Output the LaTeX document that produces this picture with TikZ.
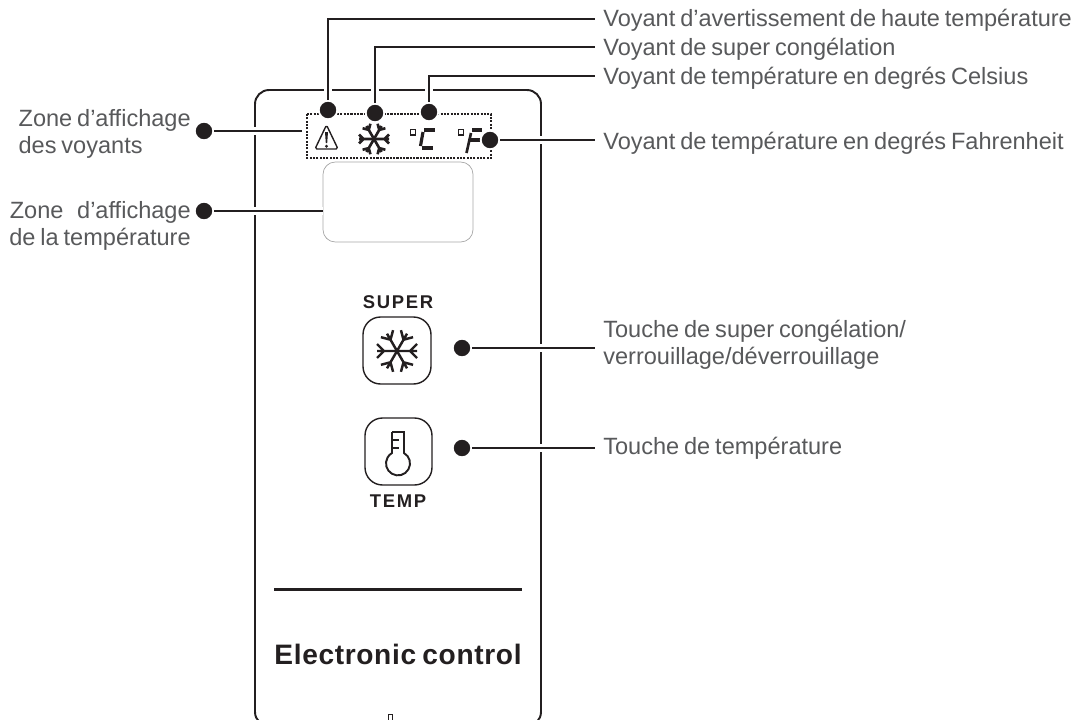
\documentclass[tikz,border=0pt]{standalone}
\usepackage{fontspec}
\setmainfont[WordSpace=0.75]{Liberation Sans}
\definecolor{labelgray}{HTML}{58595B}
\definecolor{inkblack}{HTML}{231F20}
\tikzset{
  label text/.style={text=labelgray, font=\fontsize{13.4pt}{15.4pt}\selectfont, inner sep=0pt},
  panel text/.style={text=inkblack, font=\addfontfeatures{LetterSpace=9}\bfseries\fontsize{10.5pt}{12pt}\selectfont, inner sep=0pt},
  callout/.style={draw=inkblack, line width=1.2pt, preaction={draw=white, line width=4pt}},
  dot/.style={circle, fill=inkblack, draw=white, line width=1pt, inner sep=0pt, minimum size=10.5pt}
}
\newcommand{\snowflake}[4]{% centre, radius, branch, width
  \foreach \ang in {0,60,...,300} {
    \draw[inkblack, line width=#4, rotate around={\ang:(#1)}] (#1) -- ++(#2,0) ++(-#3,0) -- ++(#3,#3) ++(-#3,-#3) -- ++(#3,-#3);
  }
}
\begin{document}
\begin{tikzpicture}[x=0.02cm, y=-0.02cm]
    \useasboundingbox (0,0) rectangle (1075,720);

    % Panel outline
    \draw[inkblack, line width=1.1pt, rounded corners=8pt] (255,726) -- (255,90) -- (541,90) -- (541,726) -- cycle;

    % Indicator area
    \draw[inkblack, dash pattern=on 1.2pt off 0.7pt, line width=0.6pt] (307,114) -- (491,114) -- (491,158) -- (307,158) -- cycle;
    \draw[gray!70, line width=0.4pt, rounded corners=7pt] (323,162) rectangle (473,242);

    % Warning icon
    \draw[inkblack, line width=0.8pt, line join=round, rounded corners=1pt] (326.5,125) -- (338,149) -- (315,149) -- cycle;
    \fill[inkblack] (325,132) -- (328,132) -- (327.2,143) -- (325.8,143) -- cycle;
    \fill[inkblack] (326.5,146.2) circle (1.6);

    % Display snowflake
    \snowflake{374,139}{15}{4.5}{1.5pt}

    % Celsius and Fahrenheit
    \draw[inkblack, line width=0.6pt] (410.5,129.5) rectangle (415.5,135);
    \draw[inkblack, line width=1.8pt] (423,132) -- (420.5,146);
    \draw[inkblack, line width=1.8pt] (424,130) -- (435,130);
    \draw[inkblack, line width=1.8pt] (422,148) -- (433,148);
    \draw[inkblack, line width=0.6pt] (458.5,129.5) rectangle (463.5,135);
    \draw[inkblack, line width=1.5pt] (471,133) -- (466.5,153);
    \draw[inkblack, line width=1.8pt] (472,130) -- (482,130);
    \draw[inkblack, line width=1.8pt] (469.5,140) -- (480,140);

    % Buttons
    \node[panel text] (super) at (398,302) {SUPER};
    \draw[inkblack, line width=0.8pt, rounded corners=10pt] (363,317) rectangle (431,384);
    \snowflake{397,351}{20}{7}{1.4pt}
    \draw[inkblack, line width=0.8pt, rounded corners=10pt] (365,418) rectangle (432,485);
    \draw[inkblack, line width=1.1pt] (392,432) -- (404,432) -- (404,453)
        arc[start angle=-60, end angle=240, radius=12] -- (392,432);
    \draw[inkblack, line width=1.5pt] (392,440) -- (399,440) (392,448) -- (399,448);
    \node[panel text] (temp) at (398,501) {TEMP};

    % Bottom of the panel
    \draw[inkblack, line width=1.7pt] (274,589) -- (522,589);
    \node[panel text, font=\addfontfeatures{LetterSpace=2.3}\bfseries\fontsize{16pt}{18pt}\selectfont] (brand) at (398,654) {Electronic control};
    \draw[inkblack, line width=0.4pt] (388,720) -- (388,714) -- (392,714) -- (392,720);

    % Dots and labels
    \node[dot] (d1) at (328,110) {};
    \node[dot] (d2) at (375,113) {};
    \node[dot] (d3) at (429,112) {};
    \node[dot] (d4) at (490,140) {};
    \node[dot] (d5) at (204,131) {};
    \node[dot] (d6) at (204,211) {};
    \node[dot] (d7) at (462,348) {};
    \node[dot] (d8) at (462,448) {};
    \node[label text, anchor=west] (l1) at (603,20.5) {Voyant d’avertissement de haute température};
    \node[label text, anchor=west] (l2) at (603,49) {Voyant de super congélation};
    \node[label text, anchor=west] (l3) at (603,78) {Voyant de température en degrés Celsius};
    \node[label text, anchor=west] (l4) at (603,143) {Voyant de température en degrés Fahrenheit};
    \node[label text, anchor=east, align=left] (l5) at (191,134) {Zone d’affichage\\des voyants};
    \node[label text, anchor=east, align=right] (l6) at (191,226) {Zone\hspace{5pt} d’affichage\\de la température};
    \node[label text, anchor=west, align=left] (l7) at (603,345) {Touche de super congélation/\\verrouillage/déverrouillage};
    \node[label text, anchor=west] (l8) at (603,448) {Touche de température};

    % Leader ends
    \coordinate (e1) at (595,19);
    \coordinate (e2) at (595,47);
    \coordinate (e3) at (595,76);
    \coordinate (e4) at (595,140);
    \coordinate (e5) at (302,131);
    \coordinate (e6) at (323,211);
    \coordinate (e7) at (595,348);
    \coordinate (e8) at (595,448);

    % Leader lines
    \draw[callout] (d1) |- (e1);
    \draw[callout] (d2) |- (e2);
    \draw[callout] (d3) |- (e3);
    \draw[callout] (d4) -- (e4);
    \draw[callout] (d5) -- (e5);
    \draw[callout] (d6) -- (e6);
    \draw[callout] (d7) -- (e7);
    \draw[callout] (d8) -- (e8);
\end{tikzpicture}
\end{document}
